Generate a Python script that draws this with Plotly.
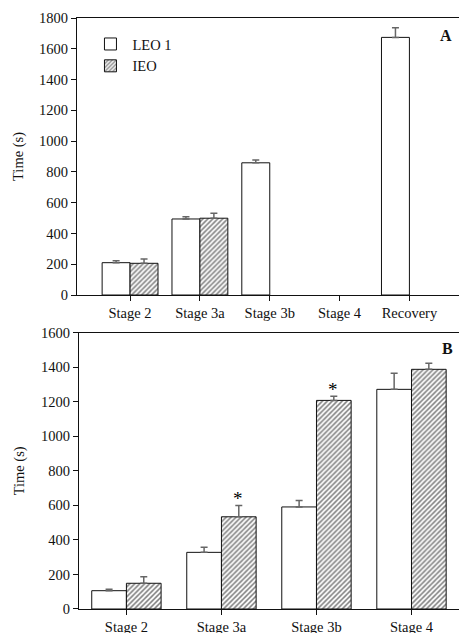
import plotly.graph_objects as go

# ---- Data ----
stages_a = ["Stage 2", "Stage 3a", "Stage 3b", "Stage 4", "Recovery"]
leo_a = [210, 494, 859, None, 1674]
leo_a_err = [13, 15, 19, 0, 63]
ieo_a = [206, 499, None, None, None]
ieo_a_err = [28, 32, 0, 0, 0]

stages_b = ["Stage 2", "Stage 3a", "Stage 3b", "Stage 4"]
leo_b = [106, 328, 591, 1272]
leo_b_err = [8, 29, 38, 93]
ieo_b = [149, 534, 1208, 1388]
ieo_b_err = [38, 66, 24, 35]
sig_b = [False, True, True, False]

y_ticks_a = [0, 200, 400, 600, 800, 1000, 1200, 1400, 1600, 1800]
y_ticks_b = [0, 200, 400, 600, 800, 1000, 1200, 1400, 1600]

FONT = "Liberation Serif"
FS = 14.5
W_A = 0.4
W_B = 0.365

fig = go.Figure()

def err(arr):
    return dict(type="data", symmetric=False, array=arr,
                arrayminus=[0] * len(arr), color="#666666",
                thickness=1.5, width=3.5)

plain = dict(color="white", line=dict(color="#111111", width=1))
hatched = dict(color="white", line=dict(color="#111111", width=1),
               pattern=dict(shape="/", size=3.5, solidity=0.45,
                            fgcolor="#000000", bgcolor="white"))

# Panel A
fig.add_trace(go.Bar(x=stages_a, y=leo_a, name="LEO 1", width=W_A, offset=-W_A,
                     marker=plain, error_y=err(leo_a_err),
                     xaxis="x", yaxis="y", showlegend=True))
fig.add_trace(go.Bar(x=stages_a, y=ieo_a, name="IEO", width=W_A, offset=0,
                     marker=hatched, error_y=err(ieo_a_err),
                     xaxis="x", yaxis="y", showlegend=True))
# Panel B
fig.add_trace(go.Bar(x=stages_b, y=leo_b, name="LEO 1", width=W_B, offset=-W_B,
                     marker=plain, error_y=err(leo_b_err),
                     xaxis="x2", yaxis="y2", showlegend=False))
fig.add_trace(go.Bar(x=stages_b, y=ieo_b, name="IEO", width=W_B, offset=0,
                     marker=hatched, error_y=err(ieo_b_err),
                     xaxis="x2", yaxis="y2", showlegend=False))

annotations = []
for s, v, e, sig in zip(stages_b, ieo_b, ieo_b_err, sig_b):
    if sig:
        annotations.append(dict(x=s, y=v + e, xref="x2", yref="y2", text="*",
                                showarrow=False, yanchor="bottom", xshift=17,
                                yshift=-6,
                                font=dict(family=FONT, size=19, color="black")))
annotations.append(dict(x=0.966, y=0.97, xref="paper", yref="paper", text="<b>A</b>",
                        showarrow=False, xanchor="center", yanchor="middle",
                        font=dict(family=FONT, size=16, color="#111111")))
annotations.append(dict(x=0.97, y=0.44, xref="paper", yref="paper", text="<b>B</b>",
                        showarrow=False, xanchor="center", yanchor="middle",
                        font=dict(family=FONT, size=16, color="#111111")))

axis_common = dict(showline=True, linecolor="#111111", linewidth=1,
                   ticks="outside", ticklen=5, tickcolor="#111111",
                   showgrid=False, zeroline=False, automargin=False,
                   tickfont=dict(family=FONT, size=FS, color="#111111"))

fig.update_layout(
    width=459, height=633,
    margin=dict(l=77, r=0, t=18, b=24, autoexpand=False),
    paper_bgcolor="white", plot_bgcolor="white",
    barmode="overlay",
    font=dict(family=FONT, size=FS, color="#111111"),
    xaxis=dict(domain=[0, 1], anchor="y", type="category",
               categoryorder="array", categoryarray=stages_a,
               range=[-0.76, 4.71], mirror=True, **axis_common),
    yaxis=dict(domain=[0.5313, 1.0], anchor="x", range=[0, 1800],
               tickvals=y_ticks_a,
               title=dict(text="Time (s)", standoff=12,
                          font=dict(family=FONT, size=FS, color="#111111")),
               **axis_common),
    xaxis2=dict(domain=[0.005, 1], anchor="y2", type="category",
                categoryorder="array", categoryarray=stages_b,
                range=[-0.5, 3.5], mirror=True, **axis_common),
    yaxis2=dict(domain=[0, 0.4675], anchor="x2", range=[0, 1600],
                tickvals=y_ticks_b,
                title=dict(text="Time (s)", standoff=12,
                           font=dict(family=FONT, size=FS, color="#111111")),
                **axis_common),
    legend=dict(x=0.03, y=0.983, xanchor="left", yanchor="top",
                bgcolor="rgba(0,0,0,0)", tracegroupgap=0, itemwidth=34,
                font=dict(family=FONT, size=FS, color="#111111")),
    annotations=annotations,
)

fig.write_html(
    "out.html",
    config={"displayModeBar": False},
    post_script="document.body.style.margin='0';document.body.style.overflow='hidden';",
)
